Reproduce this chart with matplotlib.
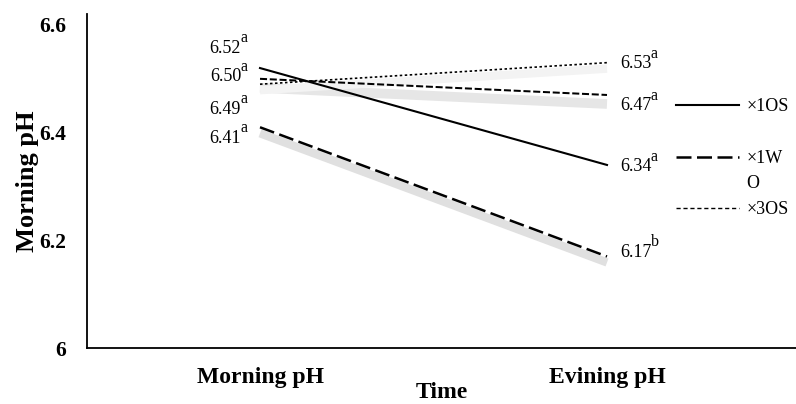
import matplotlib
matplotlib.use("Agg")
import matplotlib.pyplot as plt
from matplotlib.lines import Line2D
from matplotlib.legend_handler import HandlerLine2D
import matplotlib.transforms as mtransforms

# ---- data ----
categories = ["Morning pH", "Evining pH"]
x1os = [6.52, 6.34]
x1wo = [6.41, 6.17]
x3os = [6.50, 6.47]
x3wo = [6.49, 6.53]
letters_x1os = ["a", "a"]
letters_x1wo = ["a", "b"]
letters_x3os = ["a", "a"]
letters_x3wo = ["a", "a"]
yticks = [6.0, 6.2, 6.4, 6.6]
ytick_labels = ["6", "6.2", "6.4", "6.6"]
legend_labels = ["×1OS\n ", "×1W\nO", "×3OS"]

plt.rcParams["font.family"] = ["Liberation Serif", "DejaVu Serif"]

fig = plt.figure(figsize=(7.96, 4.04), dpi=100)
ax = fig.add_axes([87 / 796, 1 - 348 / 404, 1 - 87 / 796, (348 - 14) / 404])

xs = list(range(len(categories)))

def shadow_tf(dy):
    return mtransforms.offset_copy(ax.transData, fig=fig, x=0, y=-dy, units="dots")

# shadows
ax.plot(xs, x1wo, color="#e0e0e0", lw=6, solid_capstyle="butt", transform=shadow_tf(6), zorder=1)
ax.plot(xs, x3os, color="#e6e6e6", lw=7, solid_capstyle="butt", transform=shadow_tf(9), zorder=1)
ax.plot(xs, x3wo, color="#f3f3f3", lw=6, solid_capstyle="butt", transform=shadow_tf(6), zorder=1)

l1, = ax.plot(xs, x1os, color="black", lw=1.5, zorder=3)
l2, = ax.plot(xs, x1wo, color="black", lw=1.8, linestyle=(0, (6.0, 2.2)), zorder=3)
l3, = ax.plot(xs, x3os, color="black", lw=1.45, linestyle=(0, (3.5, 1.35)), zorder=3)
l4, = ax.plot(xs, x3wo, color="black", lw=1.2, linestyle=(0, (1.5, 1.5)), zorder=3)

num_fs = 13
let_fs = 11.5
series = [(x1os, letters_x1os), (x3os, letters_x3os), (x3wo, letters_x3wo), (x1wo, letters_x1wo)]
left_offsets = [20, 2, -25, -11]
right_offsets = [-2, -11, -1, 4]
for (vals, lets), lo in zip(series, left_offsets):
    ax.annotate(f"{vals[0]:.2f}", xy=(xs[0], vals[0]), xytext=(-19, lo),
                textcoords="offset pixels", ha="right", va="center", fontsize=num_fs)
    ax.annotate(lets[0], xy=(xs[0], vals[0]), xytext=(-13, lo + 10),
                textcoords="offset pixels", ha="right", va="center", fontsize=let_fs)
for (vals, lets), ro in zip(series, right_offsets):
    ax.annotate(f"{vals[1]:.2f}", xy=(xs[1], vals[1]), xytext=(13, ro),
                textcoords="offset pixels", ha="left", va="center", fontsize=num_fs)
    ax.annotate(lets[1], xy=(xs[1], vals[1]), xytext=(44, ro + 10),
                textcoords="offset pixels", ha="left", va="center", fontsize=let_fs)

ax.set_xlim(-0.4986, 1.5447)
ax.set_ylim(6.0, 6.6204)
ax.set_xticks(xs)
ax.set_xticklabels(categories, fontsize=17, fontweight="bold")
ax.set_yticks(yticks)
ax.set_yticklabels(ytick_labels, fontsize=15.5, fontweight="bold")
ax.tick_params(axis="both", length=0)
ax.tick_params(axis="x", pad=14)
ax.tick_params(axis="y", pad=15)
for s in ["top", "right"]:
    ax.spines[s].set_visible(False)
ax.spines["left"].set_linewidth(1.3)
ax.spines["bottom"].set_linewidth(1.3)

ax.set_xlabel("Time", fontsize=17, fontweight="bold", labelpad=-5)
ax.set_ylabel("Morning pH", fontsize=19, fontweight="bold", labelpad=0)


class ShiftedLine(HandlerLine2D):
    def __init__(self, shift, **kw):
        super().__init__(**kw)
        self.shift = shift

    def create_artists(self, legend, orig_handle, xdescent, ydescent, width,
                       height, fontsize, trans):
        arts = super().create_artists(legend, orig_handle, xdescent, ydescent,
                                      width, height, fontsize, trans)
        off = mtransforms.Affine2D().translate(0, self.shift)
        for a in arts:
            a.set_transform(off + trans)
        return arts


proxy3 = Line2D([], [], color="black", lw=1.0, linestyle=(0, (3, 2)))
leg = ax.legend([l1, l2, proxy3], legend_labels, loc="upper left",
                bbox_to_anchor=(676 / 796, 1 - 98 / 404), bbox_transform=fig.transFigure,
                frameon=False, fontsize=13, handlelength=3.5, handletextpad=0.4,
                labelspacing=0.55, borderpad=0, borderaxespad=0,
                handler_map={l1: ShiftedLine(10), l2: ShiftedLine(10)})
for t in leg.get_texts():
    t.set_linespacing(1.6)

fig.savefig("out.png", dpi=100)
